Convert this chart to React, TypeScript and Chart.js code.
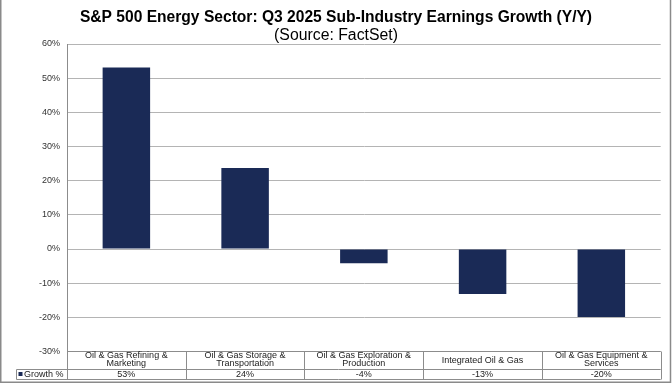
import React, { useEffect, useRef } from "react";
import { Chart, registerables } from "chart.js";

Chart.register(...registerables);

const TITLE = "S&P 500 Energy Sector: Q3 2025 Sub-Industry Earnings Growth (Y/Y)";
const SUBTITLE = "(Source: FactSet)";
const SERIES_NAME = "Growth %";
const categories: string[][] = [
  ["Oil & Gas Refining &", "Marketing"],
  ["Oil & Gas Storage &", "Transportation"],
  ["Oil & Gas Exploration &", "Production"],
  ["Integrated Oil & Gas"],
  ["Oil & Gas Equipment &", "Services"],
];
const growthValues: number[] = [53.1, 23.7, -4.2, -13.2, -19.9];
const growthLabels: string[] = ["53%", "24%", "-4%", "-13%", "-20%"];
const Y_MIN = -30;
const Y_MAX = 60;
const Y_STEP = 10;

const FONT = "'Liberation Sans', Arial, sans-serif";
const BAR_COLOR = "#1a2a56";
const LINE_GRAY = "#8c8c8c";

const decorPlugin = {
  id: "decor",
  afterDraw(chart: any) {
    const ctx: CanvasRenderingContext2D = chart.ctx;
    const area = chart.chartArea;
    const xs = chart.scales.x;
    const n = categories.length;
    const catW = (area.right - area.left) / n;
    ctx.save();
    // title
    ctx.fillStyle = "#000";
    ctx.textAlign = "center";
    ctx.textBaseline = "middle";
    ctx.font = `bold 15.6px ${FONT}`;
    ctx.fillText(TITLE, 336, 18);
    ctx.font = `15.8px ${FONT}`;
    ctx.fillText(SUBTITLE, 336, 35.5);

    // table
    const rowTop = area.bottom;
    const rowMid = 369.5;
    const rowBot = 379.5;
    const legendLeft = 16.5;
    ctx.strokeStyle = LINE_GRAY;
    ctx.lineWidth = 1;
    ctx.beginPath();
    ctx.moveTo(area.left, rowTop);
    ctx.lineTo(area.right, rowTop);
    ctx.moveTo(legendLeft, rowMid);
    ctx.lineTo(area.right, rowMid);
    ctx.moveTo(legendLeft, rowBot);
    ctx.lineTo(area.right, rowBot);
    ctx.moveTo(legendLeft, rowMid);
    ctx.lineTo(legendLeft, rowBot);
    for (let i = 0; i <= n; i++) {
      const bx = Math.round(area.left + i * catW) + 0.5;
      ctx.moveTo(bx, rowTop);
      ctx.lineTo(bx, rowBot);
    }
    ctx.stroke();

    ctx.fillStyle = "#222";
    ctx.font = `9px ${FONT}`;
    ctx.textAlign = "center";
    ctx.textBaseline = "middle";
    categories.forEach((lines, i) => {
      const cx = xs.getPixelForValue(i);
      if (lines.length === 1) {
        ctx.fillText(lines[0], cx, (rowTop + rowMid) / 2);
      } else {
        ctx.fillText(lines[0], cx, 355.5);
        ctx.fillText(lines[1], cx, 364);
      }
      ctx.fillText(growthLabels[i], cx, 374.5);
    });
    // legend key
    ctx.fillStyle = BAR_COLOR;
    ctx.fillRect(18.5, 372, 4, 4);
    ctx.fillStyle = "#222";
    ctx.textAlign = "left";
    ctx.fillText(SERIES_NAME, 24, 374.5);

    // outer border
    ctx.strokeStyle = "#8a8a8a";
    ctx.lineWidth = 1.5;
    ctx.beginPath();
    ctx.moveTo(0.75, 0);
    ctx.lineTo(0.75, 382.25);
    ctx.lineTo(670.5, 382.25);
    ctx.lineTo(670.5, 0);
    ctx.stroke();
    ctx.restore();
  },
};

export default function App() {
  const ref = useRef<HTMLCanvasElement>(null);
  useEffect(() => {
    const prevMargin = document.body.style.margin;
    document.body.style.margin = "0";
    const chart = new Chart(ref.current!, {
      type: "bar",
      data: {
        labels: categories.map((c) => c.join(" ")),
        datasets: [
          {
            label: SERIES_NAME,
            data: growthValues,
            backgroundColor: BAR_COLOR,
            borderWidth: 0,
            categoryPercentage: 1,
            barPercentage: 0.4,
          },
        ],
      },
      options: {
        responsive: false,
        animation: false,
        devicePixelRatio: 1,
        layout: { padding: { top: 44, right: 11.3, bottom: 32.5, left: 0 } },
        plugins: { legend: { display: false }, tooltip: { enabled: false }, title: { display: false } },
        scales: {
          x: { display: false, grid: { display: false } },
          y: {
            min: Y_MIN,
            max: Y_MAX,
            ticks: {
              stepSize: Y_STEP,
              callback: (v: any) => `${v}%`,
              font: { family: FONT, size: 9 },
              color: "#333",
              padding: 7,
            },
            grid: { color: "#b4b4b4", drawTicks: false, tickLength: 0 },
            border: { color: LINE_GRAY },
            afterFit: (s: any) => {
              s.width = 67;
            },
          },
        },
      },
      plugins: [decorPlugin],
    });
    return () => {
      chart.destroy();
      document.body.style.margin = prevMargin;
    };
  }, []);
  return (
    <div style={{ position: "fixed", left: 0, top: 0, width: 672, height: 384, background: "#fff" }}>
      <canvas ref={ref} width={672} height={384} style={{ display: "block" }} />
    </div>
  );
}
